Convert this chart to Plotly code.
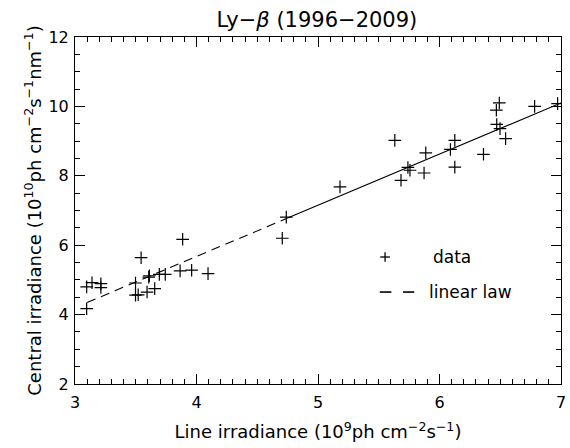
import plotly.graph_objects as go

# data points (line irradiance 1e9, central irradiance 1e10)
x_data = [3.096, 3.096, 3.140, 3.213, 3.213, 3.498, 3.498, 3.520, 3.544, 3.593,
          3.607, 3.612, 3.656, 3.694, 3.743, 3.865, 3.886, 3.960, 4.095, 4.706,
          4.739, 5.181, 5.632, 5.683, 5.740, 5.757, 5.887, 5.873, 6.090, 6.126,
          6.126, 6.362, 6.468, 6.492, 6.471, 6.498, 6.544, 6.783, 6.972]
y_data = [4.17, 4.80, 4.92, 4.89, 4.78, 4.91, 4.56, 4.57, 5.64, 4.65,
          5.08, 5.12, 4.75, 5.16, 5.16, 5.26, 6.17, 5.28, 5.18, 6.20,
          6.81, 7.68, 9.02, 7.87, 8.24, 8.16, 8.66, 8.08, 8.76, 9.02,
          8.25, 8.62, 9.89, 10.10, 9.48, 9.36, 9.07, 10.00, 10.08]

# linear law
slope = 1.474
intercept = -0.22
fit_dash_x = [3.1, 4.75]
fit_solid_x = [4.75, 7.0]

x_ticks = [3, 4, 5, 6, 7]
y_ticks = [2, 4, 6, 8, 10, 12]

FONT = "DejaVu Sans"

fig = go.Figure()
fig.add_trace(go.Scatter(x=x_data, y=y_data, mode="markers",
                         marker=dict(symbol="cross-thin", size=9,
                                     line=dict(color="black", width=1.2)),
                         showlegend=False))
fig.add_trace(go.Scatter(x=fit_dash_x, y=[slope * v + intercept for v in fit_dash_x],
                         mode="lines", line=dict(color="black", width=1.1, dash="9px,6px"),
                         showlegend=False))
fig.add_trace(go.Scatter(x=fit_solid_x, y=[slope * v + intercept for v in fit_solid_x],
                         mode="lines", line=dict(color="black", width=1.1),
                         showlegend=False))
# invisible trace to activate mirrored axes
fig.add_trace(go.Scatter(x=[x_ticks[0]], y=[y_ticks[0]], xaxis="x2", yaxis="y2",
                         mode="markers", marker=dict(opacity=0), showlegend=False,
                         hoverinfo="skip"))

axis_common = dict(showgrid=False, zeroline=False, showline=True, linecolor="black",
                   linewidth=1, ticks="inside", ticklen=10,
                   tickcolor="black", tickwidth=1,
                   tickfont=dict(family=FONT, size=16, color="black"))

fig.update_layout(
    xaxis=dict(range=[3, 7], tickvals=x_ticks, ticktext=[str(v) for v in x_ticks],
               minor=dict(dtick=0.1, ticks="inside", ticklen=5, tickcolor="black"),
               ticklabeloverflow="allow", ticklabelstandoff=4,
               title=dict(text="Line irradiance (10<sup>9</sup>ph cm<sup>−2</sup>s<sup>−1</sup>)",
                          font=dict(family=FONT, size=18, color="black"), standoff=14),
               **axis_common),
    yaxis=dict(range=[2, 12], tickvals=y_ticks, ticktext=[str(v) for v in y_ticks],
               minor=dict(dtick=0.5, ticks="inside", ticklen=5, tickcolor="black"),
               ticklabelstandoff=2,
               title=dict(text="Central irradiance (10<sup>10</sup>ph cm<sup>−2</sup>s<sup>−1</sup>nm<sup>−1</sup>)",
                          font=dict(family=FONT, size=18, color="black"), standoff=2),
               **axis_common),
    xaxis2=dict(range=[3, 7], tickvals=x_ticks, showticklabels=False, overlaying="x",
                side="top", anchor="y",
                minor=dict(dtick=0.1, ticks="inside", ticklen=5, tickcolor="black"),
                **axis_common),
    yaxis2=dict(range=[2, 12], tickvals=y_ticks, showticklabels=False, overlaying="y",
                side="right", anchor="x",
                minor=dict(dtick=0.5, ticks="inside", ticklen=5, tickcolor="black"),
                **axis_common),
)

# manual legend
shapes = [
    dict(type="line", xref="paper", yref="paper", x0=0.628, x1=0.648, y0=0.366, y1=0.366,
         line=dict(color="black", width=1.3)),
    dict(type="line", xref="paper", yref="paper", x0=0.638, x1=0.638, y0=0.352, y1=0.380,
         line=dict(color="black", width=1.3)),
    dict(type="line", xref="paper", yref="paper", x0=0.627, x1=0.651, y0=0.265, y1=0.265,
         line=dict(color="black", width=1.6)),
    dict(type="line", xref="paper", yref="paper", x0=0.675, x1=0.698, y0=0.265, y1=0.265,
         line=dict(color="black", width=1.6)),
]
annotations = [
    dict(text="data", xref="paper", yref="paper", x=0.733, y=0.366, xanchor="left",
         yanchor="middle", showarrow=False, font=dict(family=FONT, size=17, color="black")),
    dict(text="linear law", xref="paper", yref="paper", x=0.725, y=0.265, xanchor="left",
         yanchor="middle", showarrow=False, font=dict(family=FONT, size=17, color="black")),
]

fig.update_layout(width=570, height=448,
                  margin=dict(l=75, r=4, t=37, b=64),
                  paper_bgcolor="white", plot_bgcolor="white",
                  title=dict(text="Ly−<i>β</i> (1996−2009)", x=0.556, xanchor="center",
                             xref="container", yref="container",
                             y=0.956, yanchor="middle",
                             font=dict(family=FONT, size=21, color="black")),
                  shapes=shapes, annotations=annotations, showlegend=False)

fig.write_html("out.html")
